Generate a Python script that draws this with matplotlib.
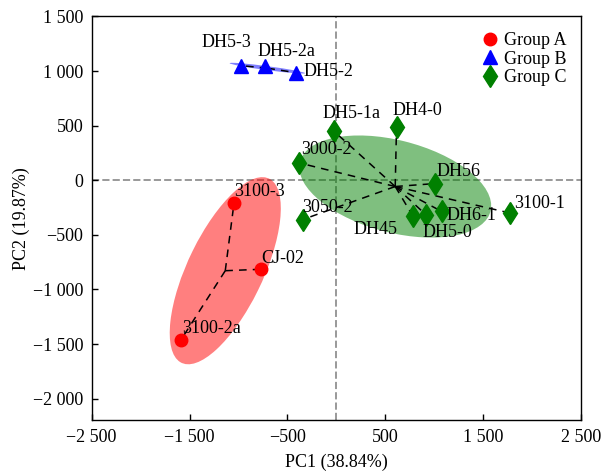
import numpy as np
import matplotlib
matplotlib.use("Agg")
import matplotlib.pyplot as plt
from matplotlib.patches import Ellipse
from matplotlib.ticker import FuncFormatter, FixedLocator

plt.rcParams['font.family'] = ['Liberation Serif', 'DejaVu Serif']
plt.rcParams['font.size'] = 13

# ---- data ----
a_names = ["3100-3", "CJ-02", "3100-2a"]
a_x = [-1045, -770, -1590]
a_y = [-205, -815, -1465]

b_names = ["DH5-3", "DH5-2a", "DH5-2"]
b_x = [-975, -730, -410]
b_y = [1050, 1045, 985]

c_names = ["DH5-1a", "DH4-0", "3000-2", "DH56", "3050-2", "DH45", "DH5-0", "DH6-1", "3100-1"]
c_x = [-25, 615, -385, 1010, -345, 780, 915, 1075, 1775]
c_y = [450, 490, 160, -30, -360, -325, -315, -285, -300]

group_labels = ["Group A", "Group B", "Group C"]
x_ticks = [-2500, -1500, -500, 500, 1500, 2500]
y_ticks = [1500, 1000, 500, 0, -500, -1000, -1500, -2000]
x_label = "PC1 (38.84%)"
y_label = "PC2 (19.87%)"

# label offsets (pixels)
offsets = {
    "DH5-3": (-39, 23), "DH5-2a": (-7, 15), "DH5-2": (7, 1),
    "DH5-1a": (-11, 18), "DH4-0": (-4, 16), "3000-2": (2, 13), "DH56": (1, 12),
    "3050-2": (0, 12), "DH45": (-59, -14), "DH5-0": (-3, -18), "DH6-1": (5, -4),
    "3100-1": (4, 10), "3100-3": (0, 11), "CJ-02": (0, 11), "3100-2a": (1, 12),
}

fig = plt.figure(figsize=(6.04, 4.74), dpi=100)
ax = fig.add_axes([0.1518, 0.1129, 0.8101, 0.8523])

ax.axhline(0, color='#999999', ls='--', lw=1.4, zorder=0)
ax.axvline(0, color='#999999', ls='--', lw=1.4, zorder=0)

def conf_ellipse(x, y, n_std, color, min_h=0):
    x = np.asarray(x, float); y = np.asarray(y, float)
    cov = np.cov(x, y)
    vals, vecs = np.linalg.eigh(cov)
    order = vals.argsort()[::-1]
    vals, vecs = vals[order], vecs[:, order]
    ang = np.degrees(np.arctan2(vecs[1, 0], vecs[0, 0]))
    w, h = 2 * n_std * np.sqrt(vals)
    h = max(h, min_h)
    e = Ellipse((x.mean(), y.mean()), w, h, angle=ang, facecolor=color,
                alpha=0.5, edgecolor='none', zorder=1)
    ax.add_patch(e)

groups = [
    (a_names, a_x, a_y, 'red', 'o', 9),
    (b_names, b_x, b_y, 'blue', '^', 9.5),
    (c_names, c_x, c_y, 'green', 'd', 11.5),
]
N_STD = 1.36
for (names, xs, ys, col, mk, ms), lab in zip(groups, group_labels):
    conf_ellipse(xs, ys, N_STD, col, min_h=30)
    mx, my = np.mean(xs), np.mean(ys)
    for xi, yi in zip(xs, ys):
        ax.plot([mx, xi], [my, yi], color='black', lw=1.1, dashes=(5, 4), zorder=2)
    ax.plot(xs, ys, ls='none', marker=mk, color=col, ms=ms, label=lab, zorder=3)
    for n, xi, yi in zip(names, xs, ys):
        ax.annotate(n, (xi, yi), xytext=offsets[n], textcoords='offset pixels',
                    ha='left', va='center', fontsize=13, zorder=4)

ax.set_xlim(-2500, 2500)
ax.set_ylim(-2200, 1500)
ax.xaxis.set_major_locator(FixedLocator(x_ticks))
ax.yaxis.set_major_locator(FixedLocator(y_ticks))

def fmt(v, pos):
    s = f"{abs(int(round(v))):,}".replace(",", " ")
    return ("\u2212" + s) if v < 0 else s

ax.xaxis.set_major_formatter(FuncFormatter(fmt))
ax.yaxis.set_major_formatter(FuncFormatter(fmt))
ax.tick_params(direction='in', length=4, width=1, labelsize=13, pad=6)
for sp in ax.spines.values():
    sp.set_linewidth(1.0)

ax.set_xlabel(x_label, fontsize=13, labelpad=6)
ax.set_ylabel(y_label, fontsize=13, labelpad=2)

ax.legend(loc='upper right', bbox_to_anchor=(0.971, 0.962), frameon=False,
          borderpad=0, borderaxespad=0, handlelength=1.0, handletextpad=0.3,
          labelspacing=0.1, fontsize=13)

fig.savefig("out.png", dpi=100)
